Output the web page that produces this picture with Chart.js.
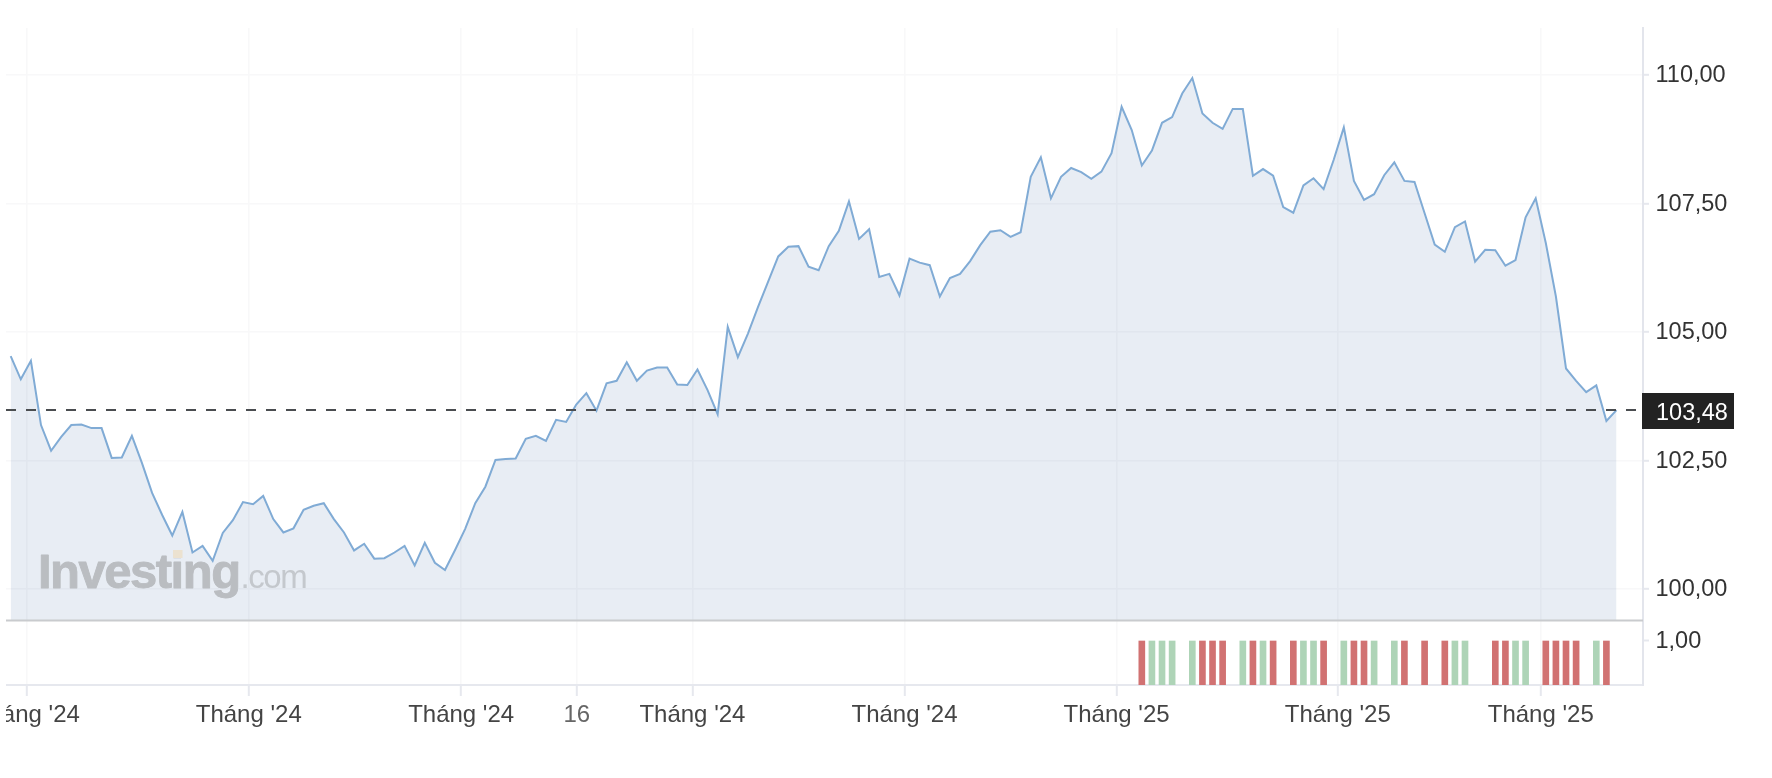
<!DOCTYPE html>
<html><head><meta charset="utf-8">
<script src="https://cdn.jsdelivr.net/npm/chart.js@4"></script>
<style>html,body{margin:0;padding:0;background:#fff;overflow:hidden}#w{position:absolute;left:6px;top:0;width:1766px;height:778px}</style>
</head><body><div id="w"><canvas id="c" width="1766" height="778"></canvas></div>
<script>
const prices=[104.53,104.08,104.44,103.19,102.69,102.96,103.19,103.20,103.13,103.13,102.55,102.56,102.98,102.45,101.87,101.44,101.04,101.50,100.71,100.84,100.55,101.09,101.34,101.69,101.65,101.81,101.36,101.10,101.18,101.54,101.62,101.67,101.36,101.10,100.75,100.88,100.59,100.60,100.71,100.84,100.46,100.90,100.51,100.37,100.76,101.17,101.67,101.99,102.51,102.53,102.54,102.92,102.98,102.88,103.29,103.25,103.59,103.81,103.47,104.00,104.05,104.41,104.05,104.25,104.31,104.31,103.98,103.97,104.27,103.87,103.40,105.10,104.51,104.97,105.49,105.98,106.47,106.66,106.67,106.27,106.20,106.67,106.97,107.54,106.81,107.00,106.07,106.13,105.71,106.43,106.35,106.30,105.69,106.05,106.13,106.38,106.69,106.95,106.98,106.85,106.94,108.02,108.40,107.60,108.02,108.19,108.11,107.98,108.12,108.48,109.38,108.93,108.24,108.53,109.07,109.18,109.64,109.94,109.25,109.07,108.95,109.34,109.34,108.04,108.17,108.04,107.43,107.32,107.85,107.99,107.78,108.35,108.98,107.94,107.57,107.68,108.05,108.30,107.94,107.92,107.31,106.70,106.56,107.04,107.15,106.37,106.60,106.59,106.29,106.40,107.23,107.60,106.73,105.69,104.29,104.05,103.83,103.96,103.27,103.48];
const lastPrice=103.48;
const upIdx=[113,114,115,117,122,124,128,129,132,135,137,143,144,149,150,157];
const downIdx=[112,118,119,120,123,125,127,130,133,134,138,140,142,147,148,152,153,154,155,158];
const xTickPos=[1.6,23.57,44.6,56.05,67.5,88.5,109.5,131.4,151.5];
const xTickLabels=["Tháng '24","Tháng '24","Tháng '24","16","Tháng '24","Tháng '24","Tháng '25","Tháng '25","Tháng '25"];
const yTicks=[100,102.5,105,107.5,110];
const volTicks=[1];
const fmt=v=>v.toFixed(2).replace('.',',');
const FONT='"Liberation Sans",Arial,sans-serif';
const XMIN=-0.465,XMAX=161.624;
const tag={id:'tag',
 beforeDraw(ch){[ch.scales.y,ch.scales.v].forEach(s=>s.getLabelItems(ch.chartArea).forEach(it=>{it.options.translation=[it.options.translation[0],it.options.translation[1]+1]}));},
 afterDatasetsDraw(ch){const c=ch.ctx;c.save();
  c.textBaseline='alphabetic';c.textAlign='left';
  c.fillStyle='rgb(186,189,193)';c.strokeStyle='rgb(186,189,193)';c.lineWidth=0.9;c.lineJoin='round';
  c.font='bold 49px '+FONT;c.letterSpacing='-1.5px';
  c.fillText('Investing',32,588);c.strokeText('Investing',32,588);
  c.font='33px '+FONT;c.letterSpacing='-1.4px';c.fillStyle='rgb(196,200,205)';
  c.fillText('.com',234.5,588);
  c.fillStyle='rgb(236,226,208)';c.fillRect(167,550,9.5,8);
  c.restore();},
 afterDraw(ch){const c=ch.ctx,y=ch.scales.y,R=ch.chartArea.right;c.save();
  c.strokeStyle='#c9cbce';c.lineWidth=2;c.beginPath();c.moveTo(0,y.bottom+0.5);c.lineTo(R,y.bottom+0.5);c.stroke();
  const p=y.getPixelForValue(lastPrice);
  c.fillStyle='#222222';c.fillRect(R-1,393,92,36);
  c.fillStyle='#fff';c.font='23.5px '+FONT;c.textBaseline='middle';c.textAlign='left';
  c.fillText(fmt(lastPrice),R+13,p+3);
  c.restore();}
};
new Chart(document.getElementById('c'),{
 data:{datasets:[
  {type:'line',label:'Close',data:prices.map((v,i)=>({x:i,y:v})),yAxisID:'y',borderColor:'#80abd5',borderWidth:2,pointRadius:0,tension:0,fill:'start',backgroundColor:'rgba(25,80,150,0.1)',order:2},
  {type:'line',label:'Last',data:[{x:XMIN,y:lastPrice},{x:XMAX,y:lastPrice}],yAxisID:'y',borderColor:'#4a4d50',borderWidth:2,borderDash:[10,10],pointRadius:0,fill:false,order:1},
  {type:'bar',label:'Up',data:upIdx.map(i=>({x:i,y:1})),yAxisID:'v',backgroundColor:'#aed4b7',barThickness:6,grouped:false,order:3},
  {type:'bar',label:'Down',data:downIdx.map(i=>({x:i,y:1})),yAxisID:'v',backgroundColor:'#d17272',barThickness:6,grouped:false,order:3}
 ]},
 options:{responsive:false,animation:false,devicePixelRatio:1,
  layout:{padding:{top:28,left:0,right:0,bottom:0}},
  plugins:{legend:{display:false},tooltip:{enabled:false}},
  scales:{
   x:{type:'linear',min:XMIN,max:XMAX,position:'bottom',offset:false,
    afterBuildTicks(s){s.ticks=xTickPos.map(v=>({value:v}))},
    afterFit(s){s.height=93;s.paddingLeft=0;s.paddingRight=0},
    grid:{offset:false,color:'#f8f8f9',lineWidth:1.6,tickColor:'#e6e8ee',tickWidth:2,tickLength:11},
    border:{color:'#e6e8ee',width:2},
    ticks:{autoSkip:false,maxRotation:0,minRotation:0,padding:5,font:{family:FONT,size:24},
     color:c=>xTickLabels[c.index]==='16'?'#666':'#444',
     callback:(v,i)=>xTickLabels[i]}},
   y:{type:'linear',position:'right',stack:'p',stackWeight:592,min:99.397,max:110.914,weight:1,
    afterBuildTicks(s){s.ticks=yTicks.map(v=>({value:v}))},
    afterFit(s){s.width=129},
    grid:{color:'#f8f8f9',lineWidth:1.6,tickColor:'#e6e8ee',tickWidth:2,tickLength:6},
    border:{color:'#e3e5ec',width:2},
    ticks:{padding:6.5,color:'#333',font:{family:FONT,size:23.5},callback:v=>fmt(v)}},
   v:{type:'linear',position:'right',stack:'p',stackWeight:65,min:0,max:1.477,weight:2,
    afterBuildTicks(s){s.ticks=volTicks.map(v=>({value:v}))},
    afterFit(s){s.width=129},
    grid:{drawOnChartArea:false,tickColor:'#e6e8ee',tickWidth:2,tickLength:6},
    border:{color:'#e3e5ec',width:2},
    ticks:{padding:6.5,color:'#333',font:{family:FONT,size:23.5},callback:v=>fmt(v)}}
  }},
 plugins:[tag]
});
</script></body></html>
